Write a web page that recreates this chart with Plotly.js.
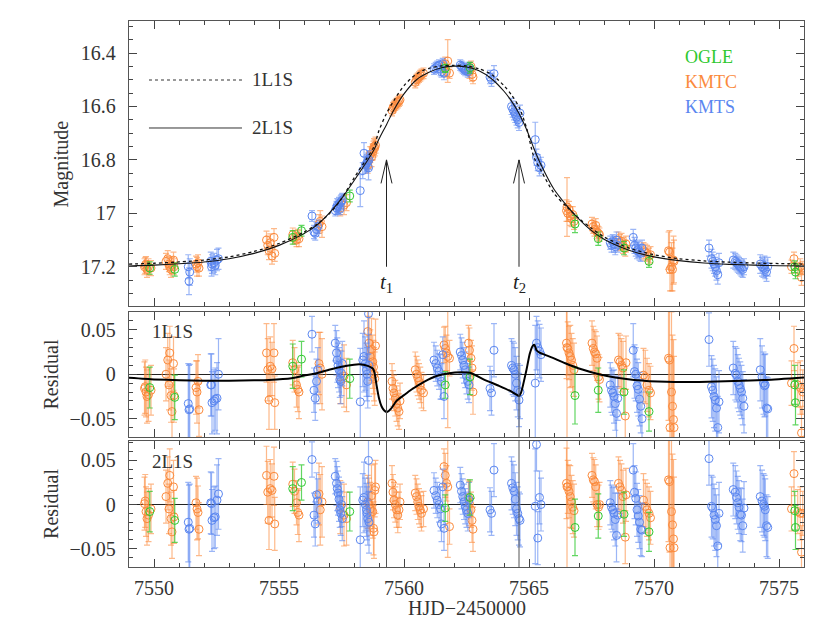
<!DOCTYPE html>
<html>
<head>
<meta charset="utf-8">
<script src="https://cdn.plot.ly/plotly-3.0.1.min.js"></script>
<style>html,body{margin:0;padding:0;background:#fff;}#chart{width:830px;height:624px;}</style>
</head>
<body>
<div id="chart"></div>
<script>
// ---------------- data ----------------
const ogleT    = [7549.83,7550.83,7555.55,7555.90,7557.83,7561.65,7562.64,7566.84,7567.77,7568.80,7569.80,7575.63,7575.66];
const ogleMag  = [17.205,17.210,17.090,17.065,16.935,16.457,16.455,17.040,17.095,17.130,17.180,17.200,17.220];
const ogleErr  = [0.023,0.025,0.025,0.020,0.022,0.015,0.020,0.032,0.025,0.025,0.022,0.022,0.025];
const ogleRes1 = [-0.015,-0.026,0.009,0.017,-0.005,-0.012,-0.003,-0.024,-0.018,-0.020,-0.042,-0.012,-0.032];
const ogleRes2 = [-0.008,-0.018,0.018,0.025,-0.008,-0.004,0.008,-0.026,-0.013,-0.011,-0.031,-0.007,-0.026];

const kmtcT = [7549.62,7549.65,7549.68,7549.72,7549.78,7549.88,7550.48,7550.55,7550.60,7550.63,7550.68,7550.72,7550.78,7550.80,
  7551.68,7551.72,7551.76,7551.80,7554.50,7554.55,7554.60,7554.65,7554.72,7554.80,7554.83,7555.55,7555.62,7555.70,7555.75,7555.80,
  7556.60,7556.65,7556.72,7557.45,7557.60,7557.70,7558.55,7558.60,7558.65,7558.70,7558.75,7558.78,7558.80,7558.83,7558.86,
  7559.52,7559.56,7559.60,7559.65,7559.70,7559.75,7559.80,7559.84,7560.45,7560.50,7560.55,7560.60,7560.65,7560.70,7560.78,
  7561.60,7561.65,7561.70,7561.75,7561.82,7562.58,7562.62,7562.68,7562.72,7562.76,7566.50,7566.52,7566.55,7566.60,7566.65,
  7566.70,7566.75,7566.80,7567.52,7567.57,7567.62,7567.67,7567.72,7567.78,7567.82,7568.58,7568.64,7568.70,7568.76,7568.85,
  7568.88,7569.58,7569.65,7569.72,7569.80,7569.86,7570.58,7570.62,7570.64,7570.70,7570.74,7570.78,7570.80,7575.50,7575.60,
  7575.75,7575.85,7575.90,7575.95];
const kmtcMag = [17.200,17.195,17.190,17.210,17.200,17.205,17.180,17.170,17.190,17.200,17.210,17.195,17.175,17.200,
  17.190,17.200,17.185,17.205,17.100,17.120,17.140,17.110,17.160,17.090,17.150,17.080,17.090,17.100,17.085,17.095,
  17.040,17.030,17.050,16.980,16.970,16.960,16.820,16.800,16.780,16.790,16.770,16.760,16.750,16.755,16.745,
  16.615,16.605,16.600,16.595,16.590,16.585,16.580,16.575,16.510,16.500,16.495,16.490,16.485,16.480,16.476,
  16.450,16.440,16.470,16.430,16.475,16.460,16.470,16.450,16.480,16.490,16.990,16.976,17.000,16.985,17.010,
  17.020,17.005,17.030,17.040,17.050,17.060,17.045,17.070,17.075,17.080,17.100,17.110,17.105,17.120,17.130,
  17.115,17.140,17.145,17.150,17.160,17.155,17.140,17.145,17.210,17.200,17.210,17.175,17.180,17.200,17.170,
  17.210,17.200,17.240,17.205];
const kmtcErr = [0.030,0.030,0.028,0.030,0.030,0.028,0.030,0.030,0.028,0.030,0.030,0.030,0.030,0.030,
  0.030,0.035,0.030,0.030,0.033,0.035,0.033,0.033,0.030,0.033,0.030,0.025,0.025,0.025,0.025,0.030,
  0.035,0.040,0.040,0.030,0.035,0.030,0.030,0.030,0.030,0.035,0.030,0.030,0.030,0.030,0.030,
  0.020,0.020,0.020,0.020,0.020,0.020,0.020,0.020,0.020,0.020,0.020,0.020,0.020,0.020,0.020,
  0.020,0.025,0.020,0.080,0.020,0.020,0.025,0.020,0.025,0.025,0.040,0.110,0.030,0.030,0.035,
  0.030,0.030,0.030,0.025,0.025,0.025,0.025,0.025,0.025,0.025,0.030,0.030,0.030,0.030,0.030,
  0.030,0.030,0.030,0.030,0.030,0.030,0.070,0.080,0.080,0.090,0.080,0.090,0.080,0.025,0.025,
  0.025,0.030,0.030,0.025];
const kmtcRes1 = [-0.016,-0.014,-0.020,-0.025,-0.023,-0.018,0.000,0.016,-0.012,0.024,-0.024,-0.042,0.012,-0.024,
  -0.015,-0.020,-0.008,-0.040,0.024,0.005,-0.029,0.009,0.006,0.024,-0.032,0.013,0.005,-0.012,-0.017,-0.020,
  0.012,0.007,0.000,-0.003,-0.002,-0.012,0.048,0.035,0.020,0.028,0.014,0.008,0.000,-0.005,0.032,
  -0.008,-0.016,-0.021,-0.027,-0.033,-0.038,-0.042,-0.030,0.005,0.000,-0.004,-0.008,-0.012,-0.018,-0.021,
  0.033,0.029,0.024,0.020,0.018,0.035,0.027,0.018,0.007,-0.020,0.035,0.030,0.029,0.024,0.020,
  0.016,0.010,0.005,0.035,0.029,0.025,0.023,0.018,-0.003,-0.006,0.016,0.014,0.010,0.007,-0.047,
  0.013,-0.001,-0.003,-0.012,-0.018,-0.021,0.018,0.016,-0.060,-0.020,-0.036,-0.051,-0.060,-0.010,0.029,
  -0.012,-0.015,-0.066,-0.020];
const kmtcRes2 = [0.001,0.004,-0.008,-0.016,-0.012,-0.005,0.009,0.024,-0.005,0.033,-0.016,-0.031,0.020,-0.014,
  0.002,-0.005,-0.009,-0.028,0.033,0.014,-0.018,0.018,0.016,0.032,-0.022,0.023,0.015,0.002,-0.009,-0.012,
  0.012,-0.006,0.003,-0.003,-0.012,-0.016,0.003,0.000,-0.005,0.010,-0.008,-0.027,-0.031,0.016,0.020,
  0.024,0.014,0.005,0.000,-0.006,-0.012,-0.006,0.003,0.013,0.009,0.003,-0.002,-0.006,-0.010,-0.005,
  0.043,0.033,0.024,0.020,-0.025,0.008,0.001,-0.006,-0.018,-0.028,0.024,0.020,0.020,0.015,0.009,
  0.003,-0.003,-0.007,0.033,0.028,0.026,0.020,0.000,-0.003,0.000,0.024,0.020,0.016,0.009,-0.037,
  0.011,0.005,-0.002,-0.006,-0.010,-0.015,0.028,0.026,-0.049,-0.008,-0.023,-0.039,-0.049,-0.005,0.035,
  -0.008,-0.010,-0.054,-0.010];

const kmtsT = [7551.37,7551.40,7551.43,7552.27,7552.30,7552.32,7552.40,7552.45,7552.52,7552.58,
  7556.32,7556.40,7556.45,7556.50,7556.55,7557.25,7557.30,7557.33,7557.36,7557.40,7557.43,7557.47,7557.50,7557.53,
  7558.25,7558.35,7558.40,7558.45,7558.50,7558.52,7558.55,7558.58,7558.60,
  7561.20,7561.27,7561.33,7561.40,7561.46,7561.50,7561.55,7561.60,7562.25,7562.30,7562.35,7562.40,7562.45,7562.50,7562.55,7562.60,
  7563.44,7563.50,7563.60,7564.30,7564.35,7564.40,7564.45,7564.50,7564.55,7564.60,7564.64,
  7565.25,7565.30,7565.35,7565.42,7565.48,7568.25,7568.30,7568.35,7568.40,7568.45,7568.50,7568.55,
  7569.17,7569.22,7569.27,7569.32,7569.37,7569.42,7569.47,7569.52,
  7572.20,7572.30,7572.35,7572.40,7572.45,7572.50,7572.55,7572.60,
  7573.17,7573.25,7573.30,7573.35,7573.40,7573.45,7573.50,7573.55,7573.60,
  7574.25,7574.32,7574.38,7574.42,7574.45,7574.50,7574.55];
const kmtsMag = [17.200,17.254,17.220,17.180,17.200,17.190,17.185,17.195,17.175,17.170,
  17.010,17.070,17.075,17.060,17.050,16.990,16.980,16.970,16.975,16.965,16.985,16.960,16.955,16.950,
  16.915,16.840,16.775,16.820,16.815,16.810,16.805,16.830,16.800,
  16.460,16.455,16.450,16.445,16.460,16.470,16.440,16.475,16.445,16.450,16.455,16.460,16.465,16.460,16.470,16.455,
  16.490,16.500,16.477,16.600,16.610,16.620,16.630,16.640,16.650,16.660,16.625,
  16.724,16.790,16.810,16.830,16.820,17.110,17.120,17.105,17.115,17.125,17.100,17.120,
  17.090,17.120,17.130,17.140,17.135,17.145,17.150,17.130,
  17.130,17.170,17.180,17.190,17.200,17.215,17.230,17.185,
  17.175,17.180,17.185,17.190,17.195,17.200,17.205,17.210,17.200,
  17.190,17.200,17.205,17.195,17.210,17.220,17.200];
const kmtsErr = [0.045,0.050,0.050,0.035,0.035,0.035,0.035,0.035,0.040,0.040,
  0.020,0.025,0.025,0.025,0.025,0.020,0.025,0.025,0.025,0.025,0.020,0.025,0.025,0.025,
  0.060,0.030,0.040,0.030,0.030,0.030,0.030,0.045,0.035,
  0.020,0.020,0.020,0.020,0.025,0.020,0.020,0.025,0.020,0.020,0.020,0.020,0.020,0.020,0.020,0.020,
  0.025,0.025,0.030,0.030,0.030,0.030,0.030,0.030,0.030,0.030,0.030,
  0.065,0.030,0.030,0.030,0.030,0.025,0.025,0.025,0.030,0.030,0.030,0.025,
  0.030,0.030,0.030,0.030,0.030,0.030,0.030,0.030,
  0.030,0.035,0.035,0.035,0.035,0.035,0.035,0.035,
  0.030,0.030,0.030,0.030,0.030,0.030,0.030,0.030,0.030,
  0.035,0.035,0.035,0.035,0.035,0.035,0.035];
const kmtsRes1 = [-0.033,-0.040,-0.039,-0.012,-0.012,-0.032,-0.030,-0.028,-0.027,0.000,
  0.045,-0.018,-0.027,-0.008,0.005,0.035,0.024,0.016,0.010,0.005,-0.006,-0.008,0.001,0.012,
  -0.031,0.016,0.020,0.012,0.005,0.000,-0.008,0.068,0.010,
  0.016,0.012,0.007,0.003,-0.003,-0.008,0.022,-0.025,0.025,0.021,0.016,0.010,0.005,-0.002,-0.008,-0.012,
  -0.016,-0.021,0.027,0.010,0.007,0.005,0.000,-0.010,-0.018,-0.029,-0.020,
  -0.010,0.035,0.030,0.026,0.022,-0.012,-0.018,-0.021,-0.025,-0.033,-0.044,-0.027,
  0.027,0.003,0.000,-0.013,-0.017,-0.028,-0.036,-0.050,
  0.039,-0.014,-0.018,-0.025,-0.029,-0.038,-0.060,-0.031,
  0.007,0.001,-0.001,-0.008,-0.012,-0.016,-0.020,-0.027,-0.036,
  0.005,-0.003,-0.010,-0.013,-0.012,-0.038,-0.039];
const kmtsRes2 = [-0.020,-0.028,-0.027,0.002,0.001,-0.018,-0.015,-0.014,0.005,0.012,
  0.051,-0.012,-0.022,0.011,0.004,0.032,0.024,0.018,0.013,0.006,-0.006,-0.010,0.000,-0.016,
  -0.040,0.005,0.008,0.000,-0.006,-0.010,-0.016,0.050,-0.020,
  0.016,0.010,0.005,0.000,-0.005,-0.022,0.020,-0.027,0.022,0.015,0.009,0.003,-0.002,-0.006,-0.010,0.005,
  -0.006,-0.010,0.039,0.024,0.019,0.015,0.006,-0.005,-0.010,-0.016,-0.018,
  -0.002,0.068,-0.038,0.008,0.000,0.002,-0.003,-0.006,-0.010,-0.017,-0.035,-0.012,
  0.039,0.014,0.007,-0.006,-0.013,-0.020,-0.028,-0.029,
  0.052,-0.002,-0.004,-0.012,-0.017,-0.024,-0.047,-0.010,
  0.017,0.014,0.008,0.002,-0.003,-0.011,-0.012,-0.024,-0.004,
  0.009,0.004,0.000,-0.002,-0.006,-0.024,-0.026];

// model curves
const modelT = [7549,7550,7551,7552,7553,7554,7555,7556,7556.5,7557,7557.5,7558,7558.5,7558.8,7559.0,7559.3,7559.6,
  7560.0,7560.5,7561.0,7561.5,7562.0,7562.5,7563.0,7563.5,7564.0,7564.3,7564.6,7564.9,7565.2,7565.5,7566.0,7566.5,
  7567.0,7567.5,7568.0,7569.0,7570.0,7571.0,7572.0,7573.0,7574.0,7575.0,7576.0];
const model2L1S = [17.197,17.194,17.189,17.182,17.170,17.150,17.120,17.076,17.045,17.000,16.945,16.878,16.808,16.762,16.722,16.668,16.612,
  16.553,16.500,16.472,16.455,16.449,16.452,16.466,16.496,16.543,16.580,16.626,16.685,16.758,16.822,16.910,16.970,
  17.022,17.065,17.097,17.138,17.163,17.177,17.186,17.191,17.194,17.196,17.197];
const model1L1S = [17.190,17.187,17.182,17.175,17.163,17.143,17.113,17.070,17.042,17.003,16.945,16.868,16.796,16.750,16.690,16.626,16.577,
  16.522,16.478,16.457,16.448,16.446,16.448,16.459,16.480,16.522,16.557,16.602,16.680,16.790,16.843,16.925,16.975,
  17.019,17.056,17.088,17.130,17.155,17.170,17.178,17.183,17.186,17.188,17.190];
const diffT = [7549.0,7550.0,7551.0,7552.0,7553.0,7554.0,7554.6,7555.5,7556.0,7556.5,7557.0,7557.5,7558.0,7558.3,7558.55,7558.75,
  7558.82,7558.9,7559.0,7559.1,7559.2,7559.3,7559.4,7559.5,7559.7,7560.0,7560.3,7560.8,7561.3,7561.8,7562.3,7562.7,7563.2,
  7563.8,7564.3,7564.5,7564.6,7564.68,7564.78,7564.9,7565.03,7565.15,7565.22,7565.3,7565.42,7565.9,7566.45,7567.1,7567.8,
  7568.45,7569.2,7570.5,7571.8,7573.2,7574.5,7576.0];
const diffRes = [-0.0040,-0.0058,-0.0067,-0.0072,-0.0072,-0.0068,-0.0064,-0.0045,-0.0015,0.0010,0.0050,0.0085,0.0108,0.0110,0.0094,0.0065,
  0.0020,-0.0120,-0.0270,-0.0360,-0.0405,-0.0425,-0.0410,-0.0380,-0.0300,-0.0235,-0.0172,-0.0085,-0.0020,0.0012,0.0022,0.0012,-0.0060,
  -0.0130,-0.0195,-0.0230,-0.0245,-0.0210,-0.0100,0.0050,0.0230,0.0320,0.0330,0.0270,0.0243,0.0190,0.0124,0.0056,0.0000,
  -0.0037,-0.0064,-0.0085,-0.0086,-0.0076,-0.0064,-0.0037];

const tMarks = [7559.3, 7564.6];
const tLabels = ['1', '2'];
const seriesNames = ['OGLE', 'KMTC', 'KMTS'];
const seriesColors = ['#2ec82e', '#fb8a3c', '#5a86f0'];
const barColors = ['rgba(46,200,46,0.75)', 'rgba(251,138,60,0.6)', 'rgba(90,134,240,0.6)'];

// ---------------- build ----------------
const FONT = 'Liberation Serif, Times New Roman, serif';
const sets = [
  {t: kmtcT, m: kmtcMag, e: kmtcErr, r1: kmtcRes1, r2: kmtcRes2, c: 1},
  {t: kmtsT, m: kmtsMag, e: kmtsErr, r1: kmtsRes1, r2: kmtsRes2, c: 2},
  {t: ogleT, m: ogleMag, e: ogleErr, r1: ogleRes1, r2: ogleRes2, c: 0}
];
const traces = [];
const panels = [['x3','y3','m'], ['x2','y2','r1'], ['x','y','r2']];
panels.forEach(p => {
  sets.forEach(s => {
    traces.push({
      type: 'scatter', mode: 'markers', xaxis: p[0], yaxis: p[1],
      x: s.t, y: s[p[2]], name: seriesNames[s.c],
      marker: {symbol: 'circle-open', size: 8, color: seriesColors[s.c], line: {width: 1}},
      error_y: {type: 'data', array: s.e, visible: true, color: barColors[s.c], thickness: 1.2, width: 3},
      hoverinfo: 'skip'
    });
  });
});
traces.push({type:'scatter', mode:'lines', xaxis:'x3', yaxis:'y3', x: modelT, y: model1L1S,
  line:{color:'#111', width:1.3, dash:'dot', shape:'spline', smoothing:0.8}, hoverinfo:'skip'});
traces.push({type:'scatter', mode:'lines', xaxis:'x3', yaxis:'y3', x: modelT, y: model2L1S,
  line:{color:'#111', width:1.1, shape:'spline', smoothing:0.8}, hoverinfo:'skip'});
traces.push({type:'scatter', mode:'lines', xaxis:'x2', yaxis:'y2', x: diffT, y: diffRes,
  line:{color:'#000', width:2, shape:'spline', smoothing:0.5}, hoverinfo:'skip'});

const tickFont = {family: FONT, size: 20, color: '#333'};
function axis(extra) {
  return Object.assign({
    showline: true, linecolor: '#555', linewidth: 1.3, mirror: 'allticks',
    ticks: 'inside', ticklen: 8, tickwidth: 1, tickcolor: '#444',
    showgrid: false, zeroline: false, tickfont: tickFont
  }, extra);
}
const minor = d => ({dtick: d, ticks: 'inside', ticklen: 4, tickwidth: 1, tickcolor: '#444', showgrid: false});

const layout = {
  width: 830, height: 624,
  margin: {l: 129, r: 26, t: 21, b: 57},
  paper_bgcolor: '#fff', plot_bgcolor: '#fff',
  showlegend: false,
  xaxis: axis({domain:[0,1], anchor:'y', range:[7549,7576], tick0:7550, dtick:5, minor: minor(1), ticklabelstandoff: 3}),
  xaxis2: axis({domain:[0,1], anchor:'y2', matches:'x', range:[7549,7576], tick0:7550, dtick:5, minor: minor(1), showticklabels:false}),
  xaxis3: axis({domain:[0,1], anchor:'y3', matches:'x', range:[7549,7576], tick0:7550, dtick:5, minor: minor(1), showticklabels:false}),
  yaxis: axis({domain:[0,0.2308], anchor:'x', range:[-0.0708,0.072], tick0:0, dtick:0.05, minor: minor(0.01),
    zeroline:true, zerolinecolor:'#222', zerolinewidth:1, ticklabelstandoff: 8}),
  yaxis2: axis({domain:[0.2381,0.467], anchor:'x2', range:[-0.0706,0.07], tick0:0, dtick:0.05, minor: minor(0.01),
    zeroline:true, zerolinecolor:'#222', zerolinewidth:1, ticklabelstandoff: 8}),
  yaxis3: axis({domain:[0.478,1], anchor:'x3', range:[17.347,16.28], tick0:16.4, dtick:0.2, minor: minor(0.05), ticklabelstandoff: 8}),
  shapes: [], annotations: []
};

const tf = (size, color) => ({family: FONT, size: size, color: color || '#333'});
// legend of models (top panel)
layout.shapes.push({type:'line', xref:'x3 domain', yref:'y3 domain', x0:0.0296, x1:0.1674, y0:0.793, y1:0.793,
  line:{color:'#333', width:1.2, dash:'dot'}});
layout.shapes.push({type:'line', xref:'x3 domain', yref:'y3 domain', x0:0.0296, x1:0.1674, y0:0.6246, y1:0.6246,
  line:{color:'#333', width:1}});
layout.annotations.push({xref:'x3 domain', yref:'y3 domain', x:0.179, y:0.793, text:'1L1S', showarrow:false,
  xanchor:'left', yanchor:'middle', font: tf(19)});
layout.annotations.push({xref:'x3 domain', yref:'y3 domain', x:0.179, y:0.6246, text:'2L1S', showarrow:false,
  xanchor:'left', yanchor:'middle', font: tf(19)});
// data legend
[0,1,2].forEach(i => {
  layout.annotations.push({xref:'x3 domain', yref:'y3 domain', x:0.8207, y:[0.8737,0.786,0.698][i], text: seriesNames[i],
    showarrow:false, xanchor:'left', yanchor:'middle', font: tf(18, seriesColors[i])});
});
// panel labels
layout.annotations.push({xref:'x2 domain', yref:'y2 domain', x:0.031, y:0.845, text:'1L1S', showarrow:false,
  xanchor:'left', yanchor:'middle', font: tf(19)});
layout.annotations.push({xref:'x domain', yref:'y domain', x:0.031, y:0.836, text:'2L1S', showarrow:false,
  xanchor:'left', yanchor:'middle', font: tf(19)});
// axis titles
layout.annotations.push({xref:'paper', yref:'y3 domain', x:-0.0993, y:0.5, text:'Magnitude', textangle:-90,
  showarrow:false, xanchor:'center', yanchor:'middle', font: tf(20)});
layout.annotations.push({xref:'paper', yref:'y2 domain', x:-0.1156, y:0.5, text:'Residual', textangle:-90,
  showarrow:false, xanchor:'center', yanchor:'middle', font: tf(20)});
layout.annotations.push({xref:'paper', yref:'y domain', x:-0.1156, y:0.5, text:'Residual', textangle:-90,
  showarrow:false, xanchor:'center', yanchor:'middle', font: tf(20)});
layout.annotations.push({xref:'paper', yref:'paper', x:0.5, y:-0.0752, text:'HJD\u22122450000',
  showarrow:false, xanchor:'center', yanchor:'middle', font: tf(20)});

// t1, t2 markers
tMarks.forEach((t, i) => {
  ['x2','x'].forEach(xa => {
    const ya = xa === 'x2' ? 'y2 domain' : 'y domain';
    layout.shapes.push({type:'line', xref: xa, yref: ya, x0:t, x1:t, y0:0, y1:1, line:{color:'#555', width:1}});
  });
  layout.shapes.push({type:'line', xref:'x3', yref:'y3', x0:t, x1:t, y0:17.2, y1:16.8, line:{color:'#222', width:1}});
  layout.shapes.push({type:'path', xref:'x3', yref:'y3',
    path: 'M ' + (t-0.22) + ',16.888 L ' + t + ',16.8 L ' + (t+0.22) + ',16.888', line:{color:'#222', width:1}});
  layout.annotations.push({xref:'x3', yref:'y3', x:t, y:17.262, text:'<i>t</i><sub>' + tLabels[i] + '</sub>',
    showarrow:false, xanchor:'center', yanchor:'middle', font: tf(21, '#222')});
});

Plotly.newPlot('chart', traces, layout, {staticPlot: true, displayModeBar: false});
</script>
</body>
</html>
